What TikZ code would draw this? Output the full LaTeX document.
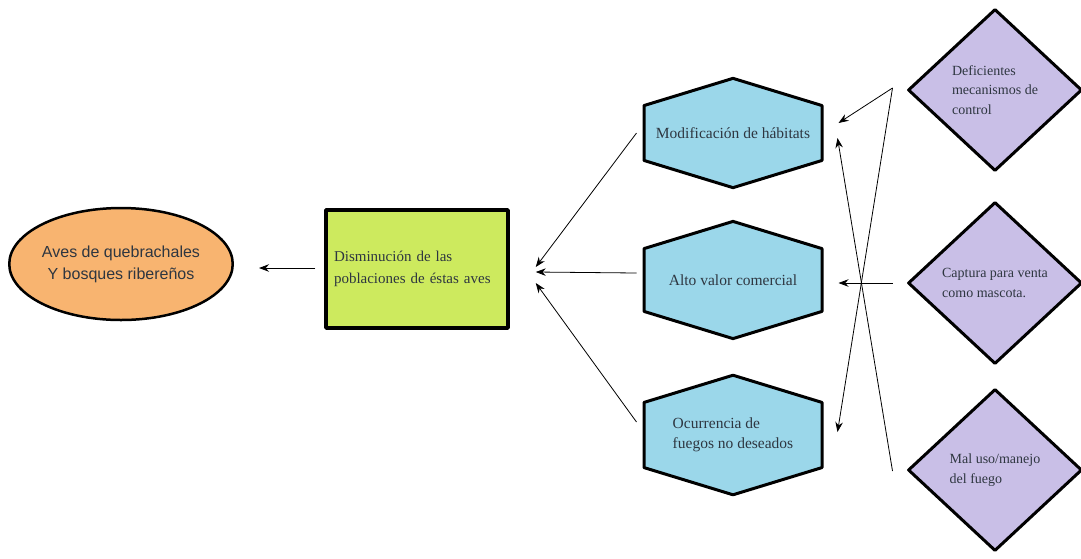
\documentclass[tikz,border=0pt]{standalone}
\usepackage{fontspec}
\setmainfont{Liberation Serif}
\newfontfamily\arialfont{Liberation Sans}
\usetikzlibrary{shapes.geometric,shapes.symbols,arrows.meta,calc}
\definecolor{naranja}{HTML}{F8B470}
\definecolor{verdelima}{HTML}{CDEA5E}
\definecolor{celeste}{HTML}{9BD7EA}
\definecolor{lila}{HTML}{C9BFE7}
\definecolor{tinta}{HTML}{2E3640}
\begin{document}
\begin{tikzpicture}[x=1pt, y=-1pt, line join=round, >={Stealth[length=10pt,width=7.5pt]},
	elipse/.style={ellipse, draw, line width=2.5pt, fill=naranja, inner sep=0pt,
		minimum width=222pt, minimum height=112pt, align=center, text=tinta,
		font=\arialfont\fontsize{16}{22}\selectfont},
	caja/.style={rectangle, draw, line width=3.5pt, fill=verdelima, inner sep=0pt,
		minimum width=182pt, minimum height=118pt, text width=166pt, align=left, text=tinta,
		font=\fontsize{15}{22}\selectfont},
	hexa/.style={signal, signal to=north and south, signal pointer angle=146, draw,
		line width=3pt, fill=celeste, inner sep=0pt, minimum width=178pt, minimum height=102pt,
		align=left, text=tinta, font=\fontsize{15.5}{19.5}\selectfont},
	rombo/.style={diamond, draw, line width=3pt, fill=lila, inner sep=0pt,
		minimum width=174pt, minimum height=162pt, align=left, text=tinta,
		font=\fontsize{14}{19.5}\selectfont},
	flecha/.style={->, line width=0.8pt}]
	\useasboundingbox (0,0) rectangle (1081,558);
	% nodos
	\node[elipse] (aves) at (121,264) {Aves de quebrachales\\Y bosques ribereños};
	\node[caja] (dismin) at (417,269) {Disminución de las\\poblaciones de éstas aves};
	\node[hexa] (modif) at (733,133) {Modificación de hábitats};
	\node[hexa] (valor) at (733,280) {Alto valor comercial};
	\node[hexa] (fuegos) at (733,435) {Ocurrencia de\\fuegos no deseados};
	\node[rombo] (defic) at (995,90) {Deficientes\\mecanismos de\\control};
	\node[rombo] (captura) at (995,283) {Captura para venta\\como mascota.};
	\node[rombo] (maluso) at (995,470) {Mal uso/manejo\\del fuego};
	% puntos de salida a la derecha
	\coordinate (sdefic) at ($(defic.west)+(-14,-2)$);
	\coordinate (scaptura) at ($(captura.west)+(-14,0)$);
	\coordinate (smaluso) at ($(maluso.west)+(-14,1)$);
	% flechas
	\draw[flecha] ($(dismin.west)+(-9,-1)$) -- ($(aves.east)+(25,4)$);
	\foreach \hex/\dy/\ty in {modif/0/-2, valor/-7/3, fuegos/-13/14}
		\draw[flecha] ($(\hex.west)+(-6,\dy)$) -- ($(dismin.east)+(26,\ty)$);
	\foreach \desde/\hex/\tx/\ty in {sdefic/modif/15/-10, sdefic/fuegos/14/-3,
		scaptura/valor/15/3, smaluso/modif/14/5}
		\draw[flecha] (\desde) -- ($(\hex.east)+(\tx,\ty)$);
\end{tikzpicture}
\end{document}
